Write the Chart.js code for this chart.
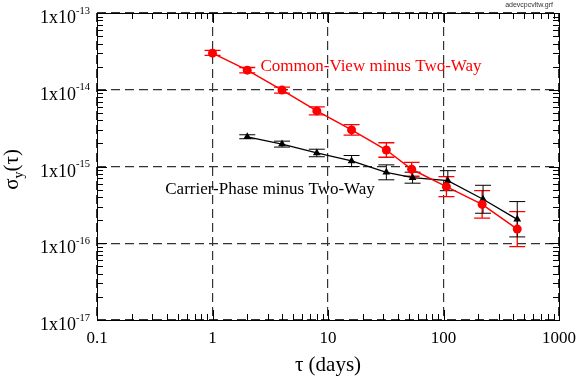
<!DOCTYPE html>
<html>
<head>
<meta charset="utf-8">
<script src="https://cdn.jsdelivr.net/npm/chart.js@4"></script>
<style>
  html, body { margin: 0; padding: 0; background: #fff; }
</style>
</head>
<body>
<canvas id="chart" width="578" height="383"></canvas>
<script>
// Common-View minus Two-Way
const tauCV = [1, 2, 4, 8, 16, 32, 53, 106, 216, 435];
const sigmaCV = [3.0e-14, 1.8e-14, 9.9e-15, 5.3e-15, 3.0e-15, 1.64e-15, 9.2e-16, 5.46e-16, 3.21e-16, 1.53e-16];
const sigmaCVLow = [2.8e-14, 1.66e-14, 9.05e-15, 4.7e-15, 2.56e-15, 1.32e-15, 7.46e-16, 4.04e-16, 2.13e-16, 9.05e-17];
const sigmaCVHigh = [3.25e-14, 1.95e-14, 1.08e-14, 5.97e-15, 3.52e-15, 2.04e-15, 1.135e-15, 7.37e-16, 4.84e-16, 2.59e-16];

// Carrier-Phase minus Two-Way
const tauCP = [2, 4, 8, 16, 32, 54, 109, 220, 435];
const sigmaCP = [2.44e-15, 1.96e-15, 1.5e-15, 1.18e-15, 8.4e-16, 7.15e-16, 6.53e-16, 3.74e-16, 2.05e-16];
const sigmaCPLow = [2.3e-15, 1.79e-15, 1.34e-15, 1.0e-15, 6.71e-16, 6.06e-16, 4.84e-16, 2.46e-16, 1.21e-16];
const sigmaCPHigh = [2.59e-15, 2.14e-15, 1.68e-15, 1.39e-15, 1.05e-15, 8.43e-16, 8.82e-16, 5.69e-16, 3.49e-16];

// ejes
const xTickValues = [0.1, 1, 10, 100, 1000];
const xTickLabels = ['0.1', '1', '10', '100', '1000'];
const yTickValues = [1e-17, 1e-16, 1e-15, 1e-14, 1e-13];
const yTickExponents = ['-17', '-16', '-15', '-14', '-13'];

const RED = '#ff0000';
const SERIF = '"Liberation Serif", "Times New Roman", serif';

const isDecade = (v) => Math.abs(Math.log10(v) - Math.round(Math.log10(v))) < 1e-9;

const toPoints = (xs, ys) => xs.map((x, i) => ({ x: x, y: ys[i] }));

const series = [
  { tau: tauCV, low: sigmaCVLow, high: sigmaCVHigh, color: RED, width: 1.3 },
  { tau: tauCP, low: sigmaCPLow, high: sigmaCPHigh, color: '#000000', width: 1 }
];

const decorPlugin = {
  id: 'decor',
  beforeDatasetsDraw(chart) {
    const ctx = chart.ctx;
    const xs = chart.scales.x, ys = chart.scales.y;
    // barras de error
    series.forEach(s => {
      ctx.save();
      ctx.strokeStyle = s.color;
      ctx.lineWidth = s.width;
      s.tau.forEach((t, i) => {
        const px = xs.getPixelForValue(t);
        const y1 = ys.getPixelForValue(s.low[i]);
        const y2 = ys.getPixelForValue(s.high[i]);
        ctx.beginPath();
        ctx.moveTo(px, y1); ctx.lineTo(px, y2);
        ctx.moveTo(px - 8, y1); ctx.lineTo(px + 8, y1);
        ctx.moveTo(px - 8, y2); ctx.lineTo(px + 8, y2);
        ctx.stroke();
      });
      ctx.restore();
    });
  },
  afterDraw(chart) {
    const ctx = chart.ctx;
    const a = chart.chartArea;
    const xs = chart.scales.x, ys = chart.scales.y;
    ctx.save();

    // marco
    ctx.strokeStyle = '#000';
    ctx.lineWidth = 1;
    ctx.strokeRect(Math.round(a.left) + 0.5, Math.round(a.top) + 0.5, Math.round(a.right - a.left), Math.round(a.bottom - a.top));

    // ticks menores hacia adentro
    ctx.beginPath();
    for (let d = -1; d < 3; d++) {
      for (let k = 1; k < 10; k++) {
        const px = Math.round(xs.getPixelForValue(k * Math.pow(10, d))) + 0.5;
        const len = k === 1 ? 10 : 6;
        ctx.moveTo(px, a.bottom); ctx.lineTo(px, a.bottom - len);
        ctx.moveTo(px, a.top); ctx.lineTo(px, a.top + len);
      }
    }
    for (let d = -17; d < -13; d++) {
      for (let k = 1; k < 10; k++) {
        const py = Math.round(ys.getPixelForValue(k * Math.pow(10, d))) + 0.5;
        const len = k === 1 ? 10 : 6;
        ctx.moveTo(a.left, py); ctx.lineTo(a.left + len, py);
        ctx.moveTo(a.right, py); ctx.lineTo(a.right - len, py);
      }
    }
    ctx.stroke();

    // etiquetas eje x
    ctx.fillStyle = '#000';
    ctx.font = '17px ' + SERIF;
    ctx.textAlign = 'center';
    ctx.textBaseline = 'alphabetic';
    xTickValues.forEach((v, i) => {
      ctx.fillText(xTickLabels[i], xs.getPixelForValue(v), a.bottom + 23);
    });

    // etiquetas eje y: 1x10 con exponente
    yTickValues.forEach((v, i) => {
      const py = ys.getPixelForValue(v);
      ctx.textAlign = 'right';
      ctx.font = '10.5px ' + SERIF;
      const expW = ctx.measureText(yTickExponents[i]).width;
      ctx.fillText(yTickExponents[i], a.left - 7, py + 0.5);
      ctx.font = '18px ' + SERIF;
      ctx.fillText('1x10', a.left - 7 - expW, py + 10);
    });

    // titulo eje x
    ctx.textAlign = 'center';
    ctx.font = '21px ' + SERIF;
    ctx.fillText('\u03c4 (days)', (a.left + a.right) / 2, a.bottom + 51);

    // titulo eje y
    ctx.save();
    ctx.translate(18, (a.top + a.bottom) / 2 + 3);
    ctx.rotate(-Math.PI / 2);
    ctx.textAlign = 'left';
    ctx.font = '21px ' + SERIF;
    const w1 = ctx.measureText('\u03c3').width;
    ctx.font = '14px ' + SERIF;
    const w2 = ctx.measureText('y').width;
    ctx.font = '21px ' + SERIF;
    const w3 = ctx.measureText('(\u03c4)').width;
    let x0 = -(w1 + w2 + w3) / 2;
    ctx.fillText('\u03c3', x0, 0);
    ctx.font = '14px ' + SERIF;
    ctx.fillText('y', x0 + w1, 5);
    ctx.font = '21px ' + SERIF;
    ctx.fillText('(\u03c4)', x0 + w1 + w2, 0);
    ctx.restore();

    // textos de las series
    ctx.textAlign = 'left';
    ctx.textBaseline = 'middle';
    ctx.font = '17px ' + SERIF;
    ctx.fillStyle = RED;
    ctx.fillText('Common-View minus Two-Way', xs.getPixelForValue(2.6), ys.getPixelForValue(2.0e-14));
    ctx.fillStyle = '#000';
    ctx.fillText('Carrier-Phase minus Two-Way', xs.getPixelForValue(0.39), ys.getPixelForValue(5.0e-16));

    // nombre del archivo arriba a la derecha
    ctx.font = '7px "Liberation Sans", Arial, sans-serif';
    ctx.textAlign = 'right';
    ctx.textBaseline = 'alphabetic';
    ctx.fillStyle = '#333';
    ctx.fillText('adevcpcvltw.grf', a.right - 6, 7);

    ctx.restore();
  }
};

const gridColor = (c) => (c.tick && isDecade(c.tick.value)) ? '#333333' : 'rgba(0,0,0,0)';

new Chart(document.getElementById('chart'), {
  type: 'scatter',
  data: {
    datasets: [
      {
        label: 'Common-View minus Two-Way',
        data: toPoints(tauCV, sigmaCV),
        showLine: true,
        borderColor: RED,
        backgroundColor: RED,
        borderWidth: 1.5,
        pointStyle: 'circle',
        pointRadius: 4.5,
        pointBorderWidth: 0
      },
      {
        label: 'Carrier-Phase minus Two-Way',
        data: toPoints(tauCP, sigmaCP),
        showLine: true,
        borderColor: '#000',
        backgroundColor: '#000',
        borderWidth: 1.3,
        pointStyle: 'triangle',
        pointRadius: 4.5,
        pointBorderWidth: 0
      }
    ]
  },
  options: {
    responsive: false,
    animation: false,
    layout: { padding: { left: 97, right: 19, top: 13, bottom: 63 } },
    plugins: {
      legend: { display: false },
      tooltip: { enabled: false }
    },
    scales: {
      x: {
        type: 'logarithmic',
        min: 0.1,
        max: 1000,
        ticks: { display: false, autoSkip: false },
        grid: { drawTicks: false, color: gridColor, lineWidth: 1.2 },
        border: { display: false, dash: [9, 5] },
        afterFit: (s) => { s.height = 0; }
      },
      y: {
        type: 'logarithmic',
        min: 1e-17,
        max: 1e-13,
        ticks: { display: false, autoSkip: false },
        grid: { drawTicks: false, color: gridColor, lineWidth: 1.2 },
        border: { display: false, dash: [9, 5] },
        afterFit: (s) => { s.width = 0; }
      }
    }
  },
  plugins: [decorPlugin]
});
</script>
</body>
</html>
